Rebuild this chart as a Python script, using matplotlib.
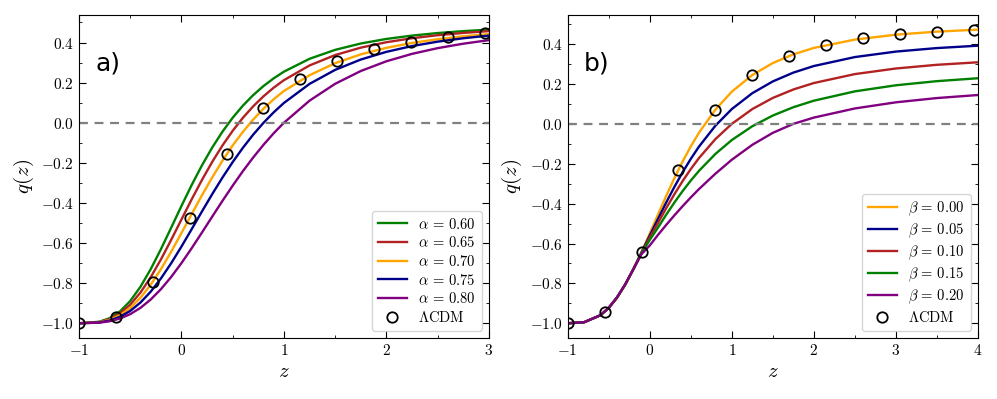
import matplotlib
matplotlib.use("Agg")
from matplotlib import pyplot as plt
from matplotlib.ticker import MultipleLocator

plt.rcParams['font.family'] = ['cmr10', 'DejaVu Serif']
plt.rcParams['mathtext.fontset'] = 'cm'
plt.rcParams['axes.formatter.use_mathtext'] = True
plt.rcParams['axes.unicode_minus'] = True

# ---- panel a) : alpha models ----
z_a = [-1.0, -0.8, -0.7, -0.6, -0.5, -0.4, -0.3, -0.2, -0.1, 0.0, 0.1, 0.2, 0.3, 0.4,
       0.5, 0.6, 0.7, 0.8, 0.9, 1.0, 1.25, 1.5, 1.75, 2.0, 2.25, 2.5, 2.75, 3.0]
q_a060 = [-1.0, -0.9924, -0.9745, -0.9410, -0.8890, -0.8180, -0.7302, -0.6301, -0.5232, -0.4150,
          -0.3104, -0.2127, -0.1238, -0.0446, 0.0250, 0.0855, 0.1378, 0.1828, 0.2214, 0.2547,
          0.3189, 0.3635, 0.3951, 0.4179, 0.4346, 0.4472, 0.4568, 0.4642]
q_a065 = [-1.0, -0.9937, -0.9790, -0.9511, -0.9073, -0.8468, -0.7705, -0.6814, -0.5838, -0.4825,
          -0.3818, -0.2853, -0.1954, -0.1134, -0.0400, 0.0249, 0.0819, 0.1316, 0.1748, 0.2123,
          0.2857, 0.3375, 0.3745, 0.4015, 0.4214, 0.4364, 0.4479, 0.4568]
q_a070 = [-1.0, -0.9949, -0.9828, -0.9600, -0.9237, -0.8729, -0.8078, -0.7301, -0.6429, -0.5500,
          -0.4552, -0.3618, -0.2726, -0.1893, -0.1131, -0.0450, 0.0160, 0.0700, 0.1170, 0.1585,
          0.2370, 0.2970, 0.3410, 0.3735, 0.3980, 0.4165, 0.4310, 0.4420]
q_a075 = [-1.0, -0.9959, -0.9863, -0.9678, -0.9385, -0.8967, -0.8424, -0.7763, -0.7004, -0.6175,
          -0.5305, -0.4425, -0.3561, -0.2735, -0.1960, -0.1245, -0.0593, -0.0006, 0.0519, 0.0988,
          0.1938, 0.2637, 0.3152, 0.3535, 0.3824, 0.4043, 0.4213, 0.4345]
q_a080 = [-1.0, -0.9970, -0.9899, -0.9764, -0.9545, -0.9231, -0.8815, -0.8298, -0.7688, -0.7000,
          -0.6255, -0.5475, -0.4682, -0.3897, -0.3136, -0.2411, -0.1732, -0.1103, -0.0525, 0.0,
          0.1102, 0.1943, 0.2580, 0.3065, 0.3435, 0.3720, 0.3942, 0.4118]
alpha_labels = ["0.60", "0.65", "0.70", "0.75", "0.80"]
lcdm_z_a = [-1.0, -0.64, -0.28, 0.08, 0.44, 0.8, 1.16, 1.52, 1.88, 2.24, 2.6, 2.96]
lcdm_q_a = [-1.0, -0.970, -0.793, -0.474, -0.158, 0.071, 0.218, 0.308, 0.366, 0.404, 0.429, 0.446]

# ---- panel b) : beta models ----
z_b = [-1.0, -0.8, -0.6, -0.5, -0.4, -0.3, -0.2, -0.1, 0.0, 0.1, 0.2, 0.3, 0.4, 0.5,
       0.6, 0.8, 1.0, 1.25, 1.5, 1.75, 2.0, 2.5, 3.0, 3.5, 4.0]
q_b000 = [-1.0, -0.9949, -0.9600, -0.9237, -0.8729, -0.8078, -0.7301, -0.6429, -0.5500, -0.4552,
          -0.3618, -0.2726, -0.1893, -0.1131, -0.0444, 0.0714, 0.1613, 0.2450, 0.3051, 0.3487,
          0.3807, 0.4226, 0.4472, 0.4626, 0.4725]
q_b005 = [-1.0, -0.9949, -0.9598, -0.9232, -0.8722, -0.8070, -0.7295, -0.6445, -0.5600, -0.4773,
          -0.3949, -0.3165, -0.2431, -0.1756, -0.1141, -0.0092, 0.0742, 0.1539, 0.2129, 0.2570,
          0.2901, 0.3350, 0.3625, 0.3801, 0.3920]
q_b010 = [-1.0, -0.9949, -0.9596, -0.9228, -0.8716, -0.8064, -0.7292, -0.6465, -0.5700, -0.4973,
          -0.4233, -0.3530, -0.2873, -0.2267, -0.1715, -0.0765, 0.0000, 0.0742, 0.1301, 0.1724,
          0.2048, 0.2496, 0.2777, 0.2962, 0.3088]
q_b015 = [-1.0, -0.9948, -0.9594, -0.9224, -0.8710, -0.8058, -0.7290, -0.6490, -0.5820, -0.5204,
          -0.4559, -0.3947, -0.3374, -0.2844, -0.2357, -0.1508, -0.0811, -0.0119, 0.0418, 0.0835,
          0.1162, 0.1630, 0.1935, 0.2142, 0.2288]
q_b020 = [-1.0, -0.9948, -0.9592, -0.9220, -0.8704, -0.8052, -0.7290, -0.6530, -0.6100, -0.5570,
          -0.5070, -0.4590, -0.4130, -0.3690, -0.3270, -0.2500, -0.1800, -0.1050, -0.0450, 0.0000,
          0.0315, 0.0773, 0.1081, 0.1294, 0.1447]
beta_labels = ["0.00", "0.05", "0.10", "0.15", "0.20"]
lcdm_z_b = [-1.0, -0.55, -0.1, 0.35, 0.8, 1.25, 1.7, 2.15, 2.6, 3.05, 3.5, 3.95]
lcdm_q_b = [-1.0, -0.944, -0.643, -0.230, 0.071, 0.245, 0.341, 0.396, 0.429, 0.449, 0.463, 0.472]

colors_a = ['green', '#b22222', 'orange', '#00008b', 'purple']
colors_b = ['orange', '#00008b', '#b22222', 'green', 'purple']


def style_axis(ax, xmax):
    ax.set_xlim(-1, xmax)
    ax.xaxis.set_major_locator(MultipleLocator(1))
    ax.xaxis.set_minor_locator(MultipleLocator(0.5))
    ax.yaxis.set_major_locator(MultipleLocator(0.2))
    ax.yaxis.set_minor_locator(MultipleLocator(0.1))
    ax.tick_params(which='both', direction='in', top=True, right=True, labelsize=11)
    ax.tick_params(which='major', length=5)
    ax.tick_params(which='minor', length=2.5)
    ax.axhline(0, color='gray', ls='--', lw=1.6, dashes=(4, 3))
    ax.set_xlabel(r'$z$', fontsize=15)
    ax.set_ylabel(r'$q(z)$', fontsize=15)


fig = plt.figure(figsize=(9.97, 3.99), dpi=100)
ax0 = fig.add_axes([0.0792, 0.153, 0.4112, 0.8095])
ax1 = fig.add_axes([0.5694, 0.153, 0.4115, 0.8095])

curves_a = [q_a060, q_a065, q_a070, q_a075, q_a080]
for q, c, lab in zip(curves_a, colors_a, alpha_labels):
    ax0.plot(z_a, q, color=c, lw=1.7, label=r'$\alpha\,=\,%s$' % lab)
ax0.plot(lcdm_z_a, lcdm_q_a, 'o', mfc='none', mec='black', ms=7.5, mew=1.3, label=r'$\Lambda$CDM')
style_axis(ax0, 3)
ax0.text(0.04, 0.85, 'a)', transform=ax0.transAxes, fontsize=18, family='DejaVu Sans', va='center')
ax0.legend(loc='lower right', fontsize=10.5, handlelength=2.0, labelspacing=0.25, borderpad=0.4)

curves_b = [q_b000, q_b005, q_b010, q_b015, q_b020]
for q, c, lab in zip(curves_b, colors_b, beta_labels):
    ax1.plot(z_b, q, color=c, lw=1.7, label=r'$\beta\,=\,%s$' % lab)
ax1.plot(lcdm_z_b, lcdm_q_b, 'o', mfc='none', mec='black', ms=7.5, mew=1.3, label=r'$\Lambda$CDM')
style_axis(ax1, 4)
ax1.text(0.04, 0.85, 'b)', transform=ax1.transAxes, fontsize=18, family='DejaVu Sans', va='center')
ax1.legend(loc='lower right', fontsize=10.5, handlelength=2.0, labelspacing=0.25, borderpad=0.4)

fig.savefig('out.png', dpi=100)
